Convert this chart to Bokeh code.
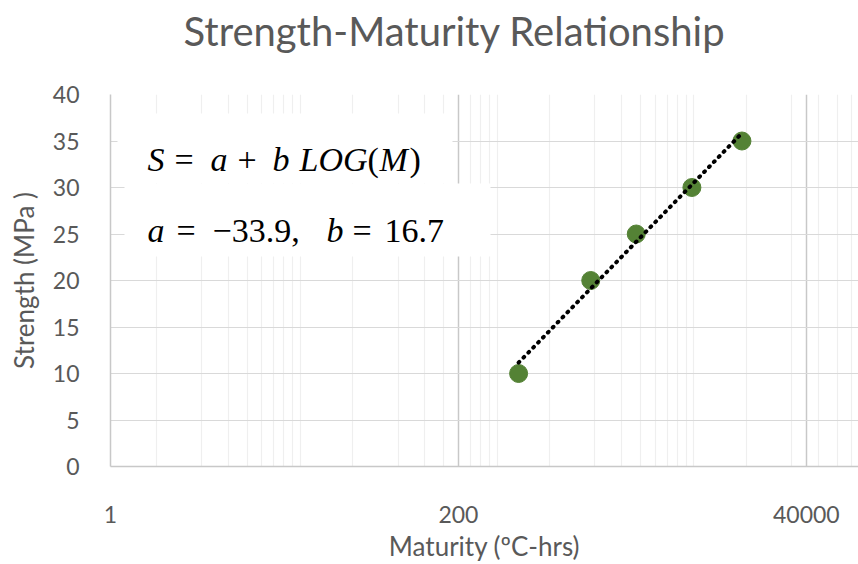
import math

from bokeh.plotting import figure
from bokeh.models import FixedTicker, Label, BoxAnnotation, CustomJSTickFormatter
from bokeh.embed import file_html
from bokeh.resources import INLINE

# Measured maturity (°C-hrs) and compressive strength (MPa)
maturity = [500, 1500, 3000, 7000, 15000]
strength = [10, 20, 25, 30, 35]

# Fitted strength-maturity relation S = a + b*log10(M)
coef_a = -33.9
coef_b = 16.7

# Axis ticks (log axis with base 200)
x_major_ticks = [1, 200, 40000]
x_minor_ticks = [2, 4, 6, 8, 10, 12, 14, 16, 18, 40, 80, 120, 160,
                 240, 280, 320, 360, 800, 1600, 2400, 3200, 4000, 4800,
                 5600, 6400, 7200, 16000, 32000, 48000, 64000, 80000]
y_ticks = [0, 5, 10, 15, 20, 25, 30, 35, 40]

TEXT = "#595959"
FONT = "Lato"
MATH_FONT = "Liberation Serif"

p = figure(width=858, height=564, x_axis_type="log",
           x_range=(1, 88500), y_range=(0, 40),
           output_backend="svg", toolbar_location=None,
           min_border_left=110, min_border_right=0,
           min_border_top=94, min_border_bottom=98)
p.outline_line_color = None
p.background_fill_color = "white"
p.border_fill_color = "white"

# chart title (bottom padding lifts it away from the plot area)
p.title.text = "Strength-Maturity Relationship"
p.title.text_font = FONT
p.title.text_font_size = "40px"
p.title.text_font_style = "normal"
p.title.text_color = TEXT
p.title.align = "left"
p.title.offset = 73
p.title.standoff = 0
p.title.padding = (0, 0, 0, 40)

p.xaxis.ticker = FixedTicker(ticks=x_major_ticks, minor_ticks=x_minor_ticks)
p.yaxis.ticker = FixedTicker(ticks=y_ticks)
p.xaxis.formatter = CustomJSTickFormatter(code="return String(Math.round(tick));")

for ax in (p.xaxis[0], p.yaxis[0]):
    ax.major_tick_line_color = None
    ax.minor_tick_line_color = None
    ax.axis_line_color = "#c8c8c8"
    ax.axis_line_width = 1.5
    ax.major_label_text_color = TEXT
    ax.major_label_text_font = FONT
    ax.major_label_text_font_size = "23px"
    ax.axis_label_text_color = TEXT
    ax.axis_label_text_font = FONT
    ax.axis_label_text_font_size = "26px"
    ax.axis_label_text_font_style = "normal"

p.xaxis.axis_label = "Maturity (\u00baC-hrs)"
p.yaxis.axis_label = "Strength (MPa )"
p.xaxis.major_label_standoff = 33
p.xaxis.axis_label_standoff = 4
p.yaxis.major_label_standoff = 25
p.yaxis.axis_label_standoff = 10

p.ygrid.grid_line_color = "#d9d9d9"
p.ygrid.grid_line_width = 1.2
p.xgrid.grid_line_color = "#c8c8c8"
p.xgrid.grid_line_width = 1.5
p.xgrid.minor_grid_line_color = "#efefef"
p.xgrid.minor_grid_line_width = 1.2

# data points
p.scatter(maturity, strength, size=18, color="#548235")

# dotted trend line from the fitted coefficients
trend_x = [min(maturity), max(maturity)]
trend_y = [coef_a + coef_b * math.log10(m) for m in trend_x]
p.line(trend_x, trend_y, line_color="black", line_width=4,
       line_dash="1 6", line_cap="round")

# white panels behind the equation text
p.add_layout(BoxAnnotation(left=7, right=342, top=353, bottom=283,
                           left_units="screen", right_units="screen",
                           top_units="screen", bottom_units="screen",
                           fill_color="white", fill_alpha=1, line_color=None))
p.add_layout(BoxAnnotation(left=14, right=380, top=283, bottom=210,
                           left_units="screen", right_units="screen",
                           top_units="screen", bottom_units="screen",
                           fill_color="white", fill_alpha=1, line_color=None))


def put(text, x, y, style):
    p.add_layout(Label(x=x, y=y, x_units="screen", y_units="screen",
                       text=text, text_font=MATH_FONT, text_font_style=style,
                       text_font_size="34px", text_color="black",
                       text_align="left", text_baseline="alphabetic"))


# equation, line 1
eq1 = [("S", 37, "italic"), ("=", 64, "normal"), ("a", 100, "italic"),
       ("+", 127, "normal"), ("b", 162, "italic"), ("LOG", 189, "italic"),
       ("(", 257, "normal"), ("M", 269, "italic"), (")", 299, "normal")]
for t, x, st in eq1:
    put(t, x, 307, st)

# equation, line 2
eq2 = [("a", 37, "italic"), ("=", 66, "normal"), ("\u221233.9,", 102, "normal"),
       ("b", 216, "italic"), ("=", 242, "normal"), ("16.7", 274, "normal")]
for t, x, st in eq2:
    put(t, x, 236, st)

open("out.html", "w").write(file_html(p, INLINE))
